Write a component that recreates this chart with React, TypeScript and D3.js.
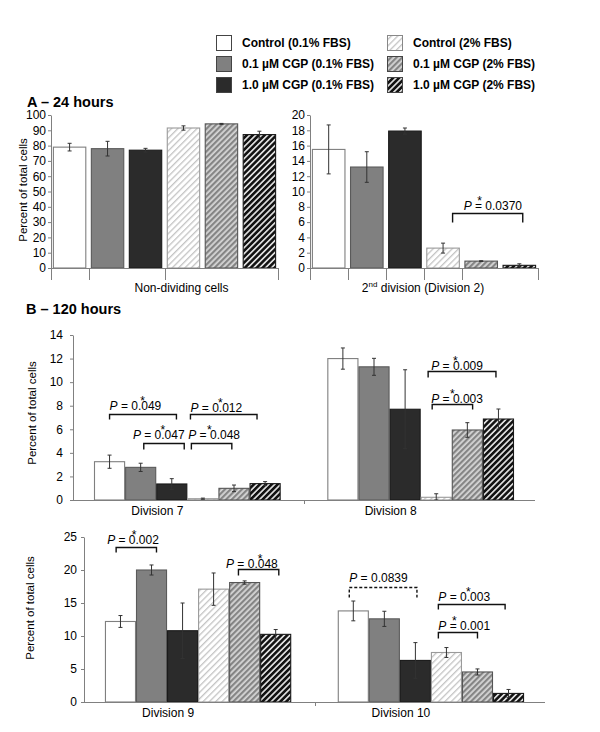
import React, { useEffect, useRef } from 'react'
import * as d3 from 'd3'

const FONT = 'Arial, "Liberation Sans", Helvetica, sans-serif'

const series = [
  'Control (0.1% FBS)',
  '0.1 µM CGP (0.1% FBS)',
  '1.0 µM CGP (0.1% FBS)',
  'Control (2% FBS)',
  '0.1 µM CGP (2% FBS)',
  '1.0 µM CGP (2% FBS)'
]

// A - 24 hours
const nonDividing = [79, 78, 77, 91.5, 94.2, 87.2]
const nonDividingErr = [2.5, 4.8, 1.2, 1.4, 0.3, 2.2]
const division2 = [15.5, 13.2, 17.9, 2.6, 0.9, 0.35]
const division2Err = [3.2, 2.0, 0.4, 0.65, 0.05, 0.2]

// B - 120 hours
const division7 = [3.25, 2.77, 1.36, 0.11, 0.99, 1.39]
const division7Err = [0.56, 0.35, 0.45, 0.05, 0.28, 0.17]
const division8 = [12.0, 11.3, 7.7, 0.23, 5.94, 6.87]
const division8Err = [0.9, 0.72, 3.35, 0.3, 0.62, 0.85]
const division9 = [12.2, 20.0, 10.8, 17.1, 18.1, 10.25]
const division9Err = [0.9, 0.76, 4.2, 2.45, 0.25, 0.73]
const division10 = [13.8, 12.6, 6.3, 7.5, 4.55, 1.3]
const division10Err = [1.5, 1.15, 2.7, 0.75, 0.46, 0.6]

// significance brackets: x in bar-index units within a category, y in data units
const bracketsA2 = [
  { cat: 0, from: 3.25, to: 5.09, y: 7.2, label: '0.0370', star: true, textAt: 3.54 }
]
const bracketsB1 = [
  { cat: 0, from: 0, to: 2.15, y: 7.3, label: '0.049', star: true, textAt: 0 },
  { cat: 0, from: 1.1, to: 2.4, y: 4.86, label: '0.047', star: true, textAt: 0.75 },
  { cat: 0, from: 2.6, to: 4.74, y: 7.3, label: '0.012', star: true, textAt: 2.6 },
  { cat: 0, from: 2.63, to: 3.93, y: 4.86, label: '0.048', star: true, textAt: 2.53 },
  { cat: 1, from: 2.74, to: 4.92, y: 10.94, label: '0.009', star: true, textAt: 2.84 },
  { cat: 1, from: 2.87, to: 4.17, y: 8.14, label: '0.003', star: true, textAt: 2.84 }
]
const bracketsB2 = [
  { cat: 0, from: -0.14, to: 1.16, y: 23.5, label: '0.002', star: true, textAt: -0.43 },
  { cat: 0, from: 3.8, to: 5.1, y: 20.1, label: '0.048', star: true, textAt: 3.4 },
  { cat: 1, from: -0.13, to: 2.05, y: 17.5, label: '0.0839', star: false, textAt: -0.13, dashed: true },
  { cat: 1, from: 2.74, to: 4.89, y: 14.8, label: '0.003', star: true, textAt: 2.74 },
  { cat: 1, from: 2.74, to: 4.0, y: 10.66, label: '0.001', star: true, textAt: 2.74 }
]

// per-bracket look: leg length, gap text->line, star offset
const bracketStyle = {
  A2: [{ leg: 9, gap: 4, starDx: 16 }],
  B1: [
    { leg: 5, gap: 5, starDx: 33 }, { leg: 6, gap: 5, starDx: 30 }, { leg: 5, gap: 3, starDx: 30 },
    { leg: 6, gap: 5, starDx: 21 }, { leg: 6, gap: 2, starDx: 24 }, { leg: 5, gap: 2, starDx: 21 }
  ],
  B2: [
    { leg: 5, gap: 4, starDx: 27 }, { leg: 6, gap: 2, starDx: 34 }, { leg: 10, gap: 6, starDx: 0 },
    { leg: 5, gap: 4, starDx: 30 }, { leg: 6, gap: 3, starDx: 16 }
  ]
}

const charts = [
  {
    key: 'A1', categories: ['Non-dividing cells'], values: [nonDividing], errors: [nonDividingErr],
    yMax: 100, yStep: 10, brackets: [], yLabel: true,
    layout: { x0: 51, x1: 278, y0: 268, yTop: 115, spaced: true, ticks: [0, 1, 3, 6], tickLen: 12, labelDx: 17, labelDy: 24, pad: 2, yLabelX: 23, yLabelY: 190 }
  },
  {
    key: 'A2', categories: ['2nd division (Division 2)'], values: [division2], errors: [division2Err],
    yMax: 20, yStep: 2, brackets: bracketsA2, yLabel: false,
    layout: { x0: 310, x1: 538, y0: 268, yTop: 115, spaced: true, ticks: [0, 1, 2, 3, 4, 6], tickLen: 12, labelDx: -1, labelDy: 24, pad: 2, yLabelX: 0, yLabelY: 0 }
  },
  {
    key: 'B1', categories: ['Division 7', 'Division 8'], values: [division7, division8], errors: [division7Err, division8Err],
    yMax: 14, yStep: 2, brackets: bracketsB1, yLabel: true,
    layout: { x0: 73, x1: 535, y0: 500, yTop: 335, spaced: false, ticks: [1], tickLen: 4, labelDx: -30, labelDy: 15, pad: 7, yLabelX: 32, yLabelY: 413 }
  },
  {
    key: 'B2', categories: ['Division 9', 'Division 10'], values: [division9, division10], errors: [division9Err, division10Err],
    yMax: 25, yStep: 5, brackets: bracketsB2, yLabel: true,
    layout: { x0: 84, x1: 545, y0: 702, yTop: 537, spaced: false, ticks: [1], tickLen: 4, labelDx: -30, labelDy: 15, pad: 4, yLabelX: 30, yLabelY: 608 }
  }
]

const fills = ['#ffffff', '#808080', '#2b2b2b', 'url(#hatchLight)', 'url(#hatchMid)', 'url(#hatchDark)']
const strokes = ['#7f7f7f', '#5a5a5a', '#1a1a1a', '#9a9a9a', '#555555', '#1a1a1a']

export default function App() {
  const ref = useRef<SVGSVGElement>(null)

  useEffect(() => {
    const svg = d3.select(ref.current)
    svg.selectAll('*').remove()

    const defs = svg.append('defs')
    const addPattern = (id: string, bg: string, line: string, w: number, size: number) => {
      const p = defs.append('pattern')
        .attr('id', id)
        .attr('patternUnits', 'userSpaceOnUse')
        .attr('width', size)
        .attr('height', size)
        .attr('patternTransform', 'rotate(45)')
      p.append('rect').attr('width', size).attr('height', size).attr('fill', bg)
      p.append('rect').attr('width', w).attr('height', size).attr('fill', line)
    }
    addPattern('hatchLight', '#ffffff', '#c4c4c4', 1.3, 4.5)
    addPattern('hatchMid', '#d6d6d6', '#858585', 2.2, 4)
    addPattern('hatchDark', '#dcdcdc', '#111111', 2.5, 4.2)

    // legend
    const legend = svg.append('g').attr('font-family', FONT).attr('font-size', 12).attr('font-weight', 'bold')
    series.forEach((s, i) => {
      const col = Math.floor(i / 3)
      const row = i % 3
      const bx = col === 0 ? 216 : 387
      const by = 35 + row * 21
      legend.append('rect')
        .attr('x', bx + 0.5).attr('y', by + 0.5).attr('width', 15).attr('height', 15)
        .attr('fill', fills[i]).attr('stroke', i === 3 ? '#888' : '#444')
      legend.append('text').attr('x', bx + 26).attr('y', by + 12).text(s)
    })

    // titles
    svg.append('text').attr('x', 27).attr('y', 107).attr('font-family', FONT)
      .attr('font-size', 14.5).attr('font-weight', 'bold').text('A – 24 hours')
    svg.append('text').attr('x', 26).attr('y', 314).attr('font-family', FONT)
      .attr('font-size', 14.5).attr('font-weight', 'bold').text('B – 120 hours')

    charts.forEach(chart => {
      const L = chart.layout
      const g = svg.append('g').attr('font-family', FONT)
      const y = d3.scaleLinear().domain([0, chart.yMax]).range([L.y0, L.yTop])
      const idx = d3.range(series.length)

      let barX: (c: number, i: number) => number
      let barW: number
      let pos: (c: number, f: number) => number
      let catCenter: (c: number) => number
      let boundary: (k: number) => number

      if (L.spaced) {
        const x = d3.scaleBand<number>().domain(idx).range([L.x0, L.x1]).paddingInner(0.12).paddingOuter(0.05)
        barX = (c, i) => x(i) as number
        barW = x.bandwidth()
        pos = (c, f) => (x(0) as number) + x.bandwidth() / 2 + f * x.step()
        catCenter = () => ((x(0) as number) + (x(5) as number) + x.bandwidth()) / 2
        boundary = k => k === 0 ? L.x0 : k >= series.length ? L.x1 : (x(k) as number) - x.step() * 0.06
      } else {
        const cat = d3.scaleBand<number>().domain(d3.range(chart.categories.length)).range([L.x0, L.x1]).paddingInner(0.2).paddingOuter(0.09)
        const inner = d3.scaleBand<number>().domain(idx).range([0, cat.bandwidth()]).padding(0)
        barX = (c, i) => (cat(c) as number) + (inner(i) as number)
        barW = inner.bandwidth()
        pos = (c, f) => (cat(c) as number) + inner.bandwidth() / 2 + f * inner.step()
        catCenter = c => (cat(c) as number) + cat.bandwidth() / 2
        boundary = k => k === 0 ? L.x0 : k >= chart.categories.length ? L.x1 : (cat(k) as number) - cat.step() * 0.1
      }

      // y axis
      const yAxis = g.append('g')
        .attr('transform', `translate(${L.x0},0)`)
        .call(d3.axisLeft(y)
          .tickValues(d3.range(0, chart.yMax + 0.001, chart.yStep))
          .tickSize(3).tickSizeOuter(0).tickPadding(L.pad))
      yAxis.select('.domain').attr('stroke', '#808080')
      yAxis.selectAll('.tick line').attr('stroke', '#808080')
      yAxis.selectAll('.tick text').attr('font-size', 12).attr('fill', '#000').attr('font-family', FONT)

      if (chart.yLabel) {
        g.append('text')
          .attr('transform', `translate(${L.yLabelX},${L.yLabelY}) rotate(-90)`)
          .attr('text-anchor', 'middle').attr('dy', '0.35em')
          .attr('font-size', 11.5).text('Percent of total cells')
      }

      // bars
      chart.values.forEach((vals, c) => {
        g.selectAll(null)
          .data(vals)
          .enter()
          .append('rect')
          .attr('x', (d, i) => barX(c, i) + 0.5)
          .attr('y', d => y(d))
          .attr('width', barW - 1)
          .attr('height', d => L.y0 - y(d))
          .attr('fill', (d, i) => fills[i])
          .attr('stroke', (d, i) => strokes[i])
          .attr('stroke-width', 1.1)

        // error bars
        const errs = chart.errors[c]
        const eg = g.append('g').attr('stroke', '#333').attr('stroke-width', 1)
        vals.forEach((v, i) => {
          const cx = barX(c, i) + barW / 2
          const hi = y(v + errs[i])
          const lo = y(Math.max(0, v - errs[i]))
          eg.append('line').attr('x1', cx).attr('x2', cx).attr('y1', hi).attr('y2', lo)
          eg.append('line').attr('x1', cx - 2).attr('x2', cx + 2).attr('y1', hi).attr('y2', hi)
          eg.append('line').attr('x1', cx - 2).attr('x2', cx + 2).attr('y1', lo).attr('y2', lo)
        })
      })

      // x axis baseline and ticks
      g.append('line').attr('x1', L.x0).attr('x2', L.x1).attr('y1', L.y0 + 0.5).attr('y2', L.y0 + 0.5).attr('stroke', '#808080')
      L.ticks.forEach(k => {
        const bx = Math.round(boundary(k)) + 0.5
        g.append('line').attr('x1', bx).attr('x2', bx).attr('y1', L.y0).attr('y2', L.y0 + L.tickLen).attr('stroke', '#808080')
      })

      // category labels
      chart.categories.forEach((name, c) => {
        const t = g.append('text')
          .attr('x', catCenter(c) + L.labelDx)
          .attr('y', L.y0 + L.labelDy)
          .attr('text-anchor', 'middle')
          .attr('font-size', 12)
        const m = name.match(/^(\d+)(st|nd|rd|th)(.*)$/)
        if (m) {
          t.append('tspan').text(m[1])
          t.append('tspan').attr('font-size', 8).attr('dy', -5).text(m[2])
          t.append('tspan').attr('dy', 5).text(m[3])
        } else {
          t.text(name)
        }
      })

      // significance brackets
      const styles = (bracketStyle as any)[chart.key] || []
      chart.brackets.forEach((b: any, bi: number) => {
        const st = styles[bi]
        const x1 = pos(b.cat, b.from)
        const x2 = pos(b.cat, b.to)
        const yy = Math.round(y(b.y)) + 0.5
        g.append('path')
          .attr('d', `M${x1},${yy + st.leg}V${yy}H${x2}V${yy + st.leg}`)
          .attr('fill', 'none')
          .attr('stroke', '#111')
          .attr('stroke-width', 1.4)
          .attr('stroke-dasharray', b.dashed ? '3,2' : null)
        const tx = pos(b.cat, b.textAt)
        const ty = yy - st.gap
        const t = g.append('text').attr('x', tx).attr('y', ty).attr('font-size', 12)
        t.append('tspan').attr('font-style', 'italic').text('P')
        t.append('tspan').text(' = ' + b.label)
        if (b.star) {
          g.append('text')
            .attr('x', tx + st.starDx).attr('y', ty - 4.5)
            .attr('text-anchor', 'middle').attr('font-size', 12).text('*')
        }
      })
    })
  }, [])

  return (
    <svg
      ref={ref}
      width={600}
      height={732}
      style={{ position: 'absolute', left: 0, top: 0, background: '#fff' }}
    />
  )
}
